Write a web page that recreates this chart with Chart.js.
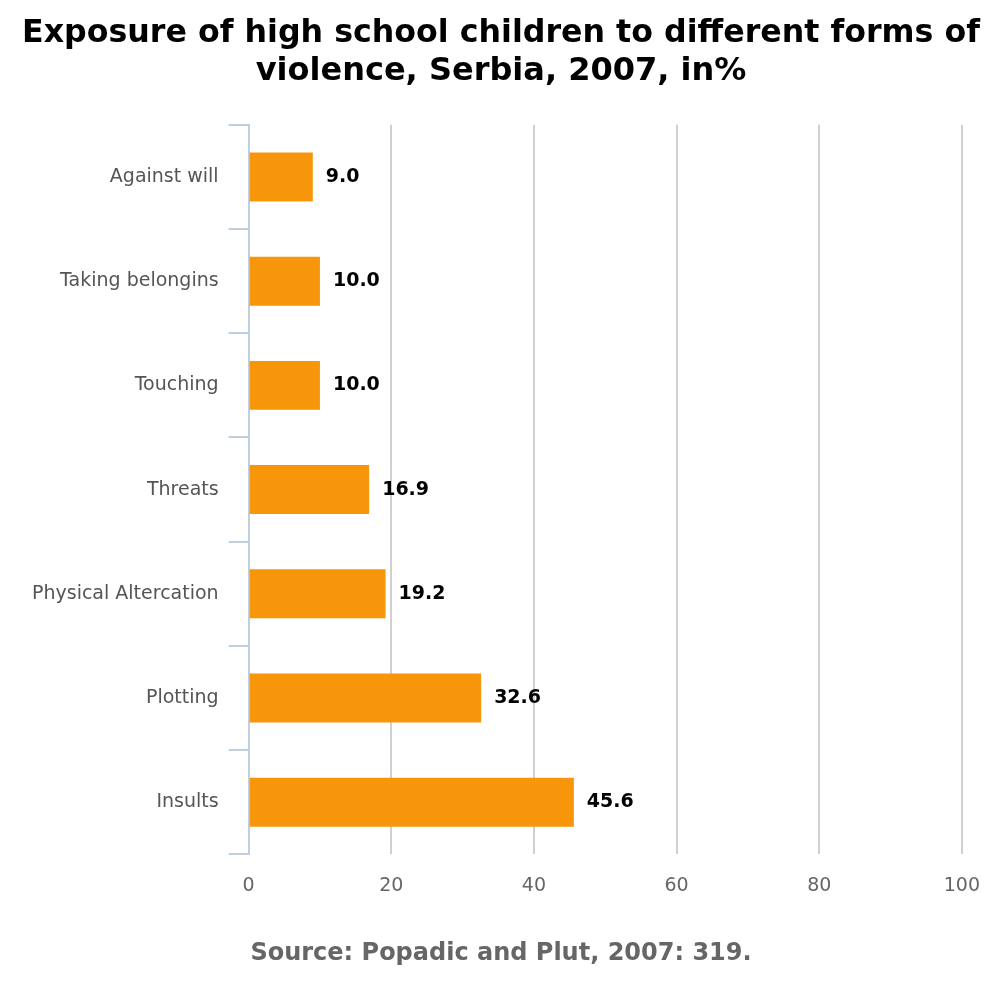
<!DOCTYPE html>
<html>
<head>
<meta charset="utf-8">
<script src="https://cdn.jsdelivr.net/npm/chart.js@4"></script>
<style>
  html, body { margin: 0; padding: 0; background: #fff; }
  #wrap { width: 1000px; height: 1000px; }
</style>
</head>
<body>
<div id="wrap"><canvas id="chart"></canvas></div>
<script>
const categories = ['Against will', 'Taking belongins', 'Touching', 'Threats', 'Physical Altercation', 'Plotting', 'Insults'];
const values = [9.0, 10.0, 10.0, 16.9, 19.2, 32.6, 45.6];
const xTicks = [0, 20, 40, 60, 80, 100];

const FONT = "'DejaVu Sans', sans-serif";

const barLabels = {
  id: 'barLabels',
  afterDatasetsDraw(chart) {
    const ctx = chart.ctx;
    const meta = chart.getDatasetMeta(0);
    ctx.save();
    ctx.font = `bold 19px ${FONT}`;
    ctx.fillStyle = '#000';
    ctx.textBaseline = 'middle';
    meta.data.forEach((bar, i) => {
      ctx.fillText(values[i].toFixed(1), bar.x + 13, bar.y);
    });
    ctx.restore();
  }
};

new Chart(document.getElementById('chart'), {
  type: 'bar',
  data: {
    labels: categories,
    datasets: [{
      data: values,
      backgroundColor: '#f7950b',
      borderWidth: 0,
      categoryPercentage: 0.94,
      barPercentage: 0.5
    }]
  },
  options: {
    indexAxis: 'y',
    responsive: true,
    maintainAspectRatio: false,
    animation: false,
    layout: { padding: { left: 22, right: 20, top: 0, bottom: 10 } },
    plugins: {
      legend: { display: false },
      tooltip: { enabled: false },
      title: {
        display: true,
        text: ['Exposure of high school children to different forms of', 'violence, Serbia, 2007, in%'],
        color: '#000',
        font: { family: FONT, size: 32, weight: 'bold', lineHeight: 1.2 },
        padding: { top: 14, bottom: 34 }
      },
      subtitle: {
        display: true,
        position: 'bottom',
        text: 'Source: Popadic and Plut, 2007: 319.',
        color: '#666',
        font: { family: FONT, size: 24, weight: 'bold' },
        padding: { top: 22, bottom: 22 }
      }
    },
    scales: {
      x: {
        min: 0,
        max: 100,
        afterBuildTicks(axis) { axis.ticks = xTicks.map(v => ({ value: v })); },
        grid: { color: '#d0d0d0', lineWidth: 2, drawTicks: false },
        border: { display: false },
        ticks: { color: '#666', font: { family: FONT, size: 19 }, padding: 20 }
      },
      y: {
        grid: { offset: true, drawOnChartArea: false, color: '#c0cfe0', lineWidth: 2, tickLength: 20 },
        border: { color: '#c0cfe0', width: 2 },
        ticks: { color: '#555', font: { family: FONT, size: 19 }, padding: 10 }
      }
    }
  },
  plugins: [barLabels]
});
</script>
</body>
</html>
